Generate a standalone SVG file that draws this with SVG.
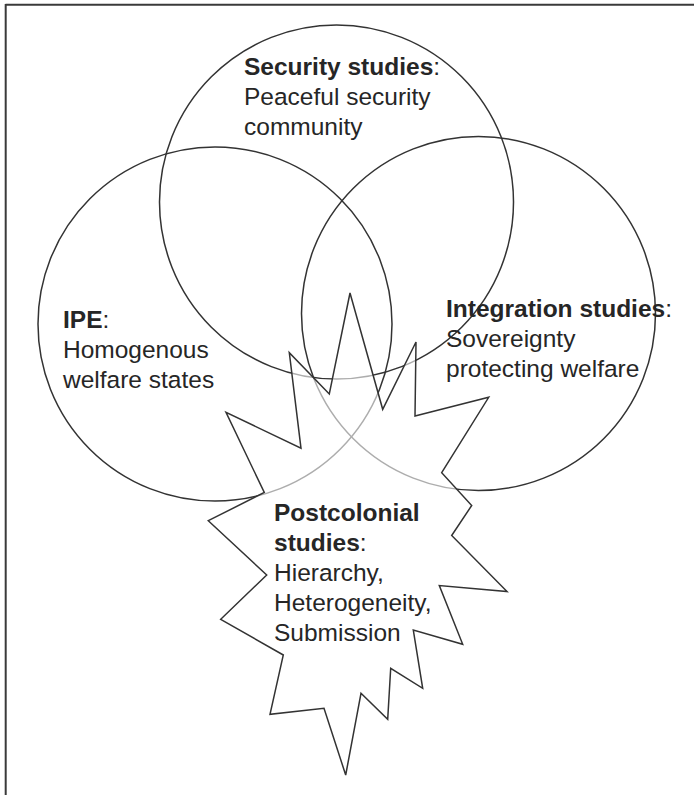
<svg xmlns="http://www.w3.org/2000/svg" width="694" height="795" viewBox="0 0 694 795">
<style>
.frame{stroke:#3a3a3a;stroke-width:2;fill:none}
.circ{fill:none;stroke:#333;stroke-width:1.5}
.star{fill:#fff;fill-opacity:0.6;stroke:#333;stroke-width:1.5;stroke-linejoin:miter}
text{font-family:"Liberation Sans",Arial,sans-serif;font-size:24.5px;fill:#262626}
.b{font-weight:bold}
.n{font-weight:normal}
</style>
<rect width="694" height="795" fill="#fff"/>
<g id="frame">
<line class="frame" x1="5.5" y1="4.7" x2="694" y2="4.7"/>
<line class="frame" x1="5.7" y1="4" x2="5.7" y2="795"/>
</g>
<g id="security">
<circle class="circ" cx="336.5" cy="202" r="177"/>
</g>
<g id="ipe">
<circle class="circ" cx="215" cy="324" r="177"/>
</g>
<g id="integration">
<circle class="circ" cx="478.5" cy="313.5" r="177"/>
</g>
<g id="postcolonial">
<polygon class="star" points="350,293 382.7,409.3 416,342 415,416 488.7,397.3 441.7,472.7 471.7,505.5 451.7,535.5 507,591.5 439.3,585.5 462.7,644.3 413.3,630 422.7,688.3 390.7,668.3 387.7,719.3 361,693.3 345.7,775 324,708.3 270,714.3 283.3,655 220.7,619.3 266.7,575 208.3,520.7 264.3,492.5 226,412.3 301,448.3 289.3,352.7 329.3,394"/>
</g>
<g id="labels">
<text x="244" y="75"><tspan class="b">Security studies</tspan><tspan class="n">:</tspan></text>
<text x="244" y="105">Peaceful security</text>
<text x="244" y="135">community</text>
<text x="63" y="328"><tspan class="b">IPE</tspan><tspan class="n">:</tspan></text>
<text x="63" y="358">Homogenous</text>
<text x="63" y="387.5">welfare states</text>
<text x="446" y="317"><tspan class="b">Integration studies</tspan><tspan class="n">:</tspan></text>
<text x="446" y="347">Sovereignty</text>
<text x="446" y="377">protecting welfare</text>
<text x="274" y="521" class="b">Postcolonial</text>
<text x="274" y="550.5"><tspan class="b">studies</tspan><tspan class="n">:</tspan></text>
<text x="274" y="580.5">Hierarchy,</text>
<text x="274" y="610.5">Heterogeneity,</text>
<text x="274" y="640.5">Submission</text>
</g>
</svg>
